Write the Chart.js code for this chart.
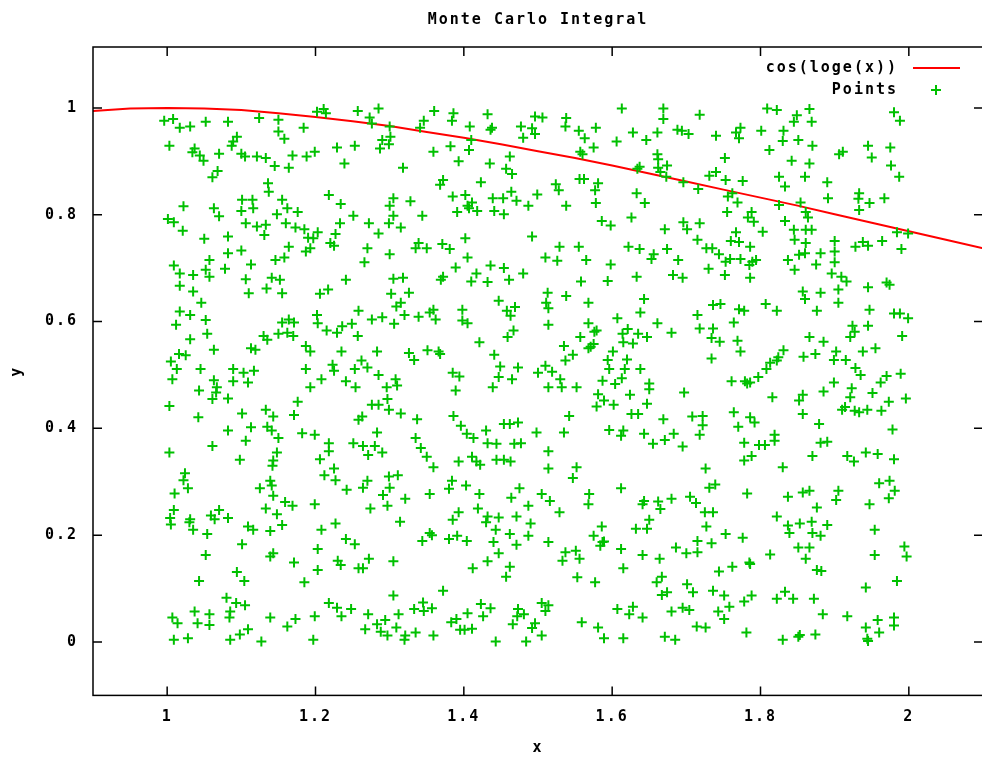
<!DOCTYPE html>
<html><head><meta charset="utf-8">
<script src="https://cdn.jsdelivr.net/npm/chart.js@4.4.1/dist/chart.umd.min.js"></script>
<style>
html,body{margin:0;padding:0;background:#fff;overflow:hidden;width:982px;height:758px}
#wrap{position:relative;width:982px;height:758px;overflow:hidden;background:#fff}
canvas{display:block}
</style></head><body><div id="wrap"><canvas id="c" width="990" height="758"></canvas></div>
<script>
const chartTitle = "Monte Carlo Integral";
const xAxisTitle = "x";
const yAxisTitle = "y";
const curveLabel = "cos(loge(x))";
const pointsLabel = "Points";
const xTickValues = [1, 1.2, 1.4, 1.6, 1.8, 2];
const xTickLabels = ["1", "1.2", "1.4", "1.6", "1.8", "2"];
const yTickValues = [0, 0.2, 0.4, 0.6, 0.8, 1];
const yTickLabels = ["0", "0.2", "0.4", "0.6", "0.8", "1"];
const xRange = [0.9, 2.1];
const yRange = [-0.1, 1.114];

const curveX = [0.9,0.95,1.0,1.05,1.1,1.15,1.2,1.25,1.3,1.35,1.4,1.45,1.5,1.55,1.6,1.65,1.7,1.75,1.8,1.85,1.9,1.95,2.0,2.05,2.1];
const curveY = [0.994,0.999,1.0,0.999,0.996,0.990,0.983,0.975,0.966,0.955,0.944,0.932,0.919,0.906,0.892,0.877,0.862,0.847,0.832,0.817,0.801,0.785,0.769,0.753,0.737];

const pointX = [
0.996,1.008,1.017,1.031,1.052,1.082,1.124,1.150,1.202,1.211,
1.214,1.184,1.150,1.158,1.094,1.089,1.087,1.003,1.037,1.034,
1.044,1.049,1.070,1.100,1.105,1.121,1.133,1.169,1.188,1.199,
1.229,1.239,1.145,1.164,1.068,1.061,1.136,1.137,1.218,1.022,
1.063,1.070,1.101,1.115,1.100,1.116,1.155,1.162,1.148,1.176,
1.234,1.001,1.009,1.021,1.050,1.082,1.106,1.121,1.133,1.131,
1.160,1.173,1.185,1.190,1.197,1.203,1.227,1.233,1.220,1.225,
1.164,1.187,1.193,1.100,1.082,1.009,1.017,1.035,1.057,1.052,
1.057,1.078,1.113,1.146,1.158,1.241,1.106,1.141,1.152,
1.257,1.285,1.273,1.276,1.360,1.386,1.384,1.432,1.408,1.346,
1.341,1.300,1.301,1.290,1.299,1.287,1.253,1.359,1.382,1.407,
1.410,1.436,1.438,1.477,1.492,1.496,1.496,1.480,1.462,1.457,
1.465,1.435,1.393,1.318,1.372,1.368,1.423,1.464,1.499,
1.385,1.402,1.405,1.411,1.407,1.418,1.391,1.439,1.453,1.471,
1.487,1.441,1.454,1.305,1.300,1.328,1.305,1.299,1.315,1.251,
1.272,1.285,1.344,1.402,1.492,1.270,1.300,1.339,1.335,1.350,
1.371,1.381,1.405,1.266,1.389,1.436,1.454,1.480,1.417,1.305,
1.318,1.372,1.369,1.410,1.432,1.461,
1.613,1.669,1.669,1.718,1.506,1.538,1.537,
1.555,1.563,1.578,1.575,1.557,1.560,1.606,1.628,1.646,1.661,
1.688,1.694,1.703,1.740,1.752,1.661,1.662,1.637,1.634,1.662,
1.674,1.665,1.673,1.696,1.716,1.731,1.740,1.753,1.556,1.562,
1.524,1.528,1.581,1.577,1.538,1.578,1.633,1.644,1.626,
1.586,1.598,1.671,1.696,1.701,1.718,1.715,1.755,1.529,1.555,
1.510,1.526,1.565,1.598,1.622,1.637,1.656,1.653,1.674,1.689,
1.727,1.735,1.744,1.753,1.730,1.752,1.682,1.695,1.633,1.558,
1.594,
1.809,1.822,1.866,1.849,1.845,1.869,1.980,1.988,1.773,1.767,
1.771,1.801,1.831,1.830,1.851,1.870,1.812,1.842,1.866,1.906,
1.911,1.945,1.950,1.975,1.976,1.987,1.825,1.833,1.860,1.890,
1.891,1.933,1.932,1.933,1.947,1.967,1.776,1.762,1.756,1.769,
1.788,1.783,1.791,1.825,1.854,1.861,1.864,1.833,1.803,1.845,
1.846,1.861,1.869,1.861,1.852,1.860,1.881,1.900,1.900,1.900,
1.875,1.837,1.846,1.896,1.909,1.916,1.928,1.938,1.945,1.964,
1.990,1.984,1.999,1.767,1.760,1.771,1.786,1.759,1.773,1.789,
1.785,1.794,1.786,
1.017,1.035,1.046,1.110,1.134,1.155,1.206,1.217,
1.017,1.031,1.012,1.052,1.031,1.054,1.063,1.016,1.025,
1.005,1.013,1.007,1.045,1.043,1.063,1.067,1.066,1.061,1.082,
1.089,1.103,1.117,1.089,1.109,1.113,1.119,1.130,1.135,1.150,
1.155,1.164,1.171,1.162,1.170,1.202,1.203,1.215,1.229,1.236,
1.187,1.193,1.235,1.223,1.225,1.187,1.208,1.193,1.241,1.003,
1.042,1.082,1.101,1.113,1.106,1.133,1.143,1.135,1.141,1.150,
1.171,1.176,1.182,1.199,1.218,1.218,1.206,1.003,1.061,1.098,
1.148,1.143,1.142,1.225,
1.302,1.326,1.315,1.309,1.320,1.339,1.258,1.276,1.290,1.306,
1.249,1.257,1.354,1.359,1.362,1.398,1.398,1.405,1.447,1.458,
1.463,1.469,1.467,1.459,1.421,1.441,1.283,1.326,1.333,1.351,
1.366,1.368,1.262,1.270,1.253,1.285,1.254,1.308,1.310,1.296,
1.297,1.276,1.285,1.299,1.315,1.337,1.385,1.394,1.389,1.449,
1.473,1.447,1.465,1.439,1.500,1.258,1.263,1.283,1.251,1.264,
1.280,1.271,1.290,1.335,1.342,1.350,1.386,1.396,1.404,1.413,
1.430,1.432,1.444,1.454,1.462,1.473,1.468,1.477,1.498,1.393,
1.411,1.417,1.422,1.444,1.454,1.463,1.359,
1.513,1.538,1.568,1.511,1.514,1.514,1.643,1.638,1.607,1.568,
1.576,1.579,1.557,1.571,1.568,1.575,1.535,1.547,1.537,1.621,
1.614,1.635,1.647,1.615,1.628,1.661,1.680,1.715,1.736,1.746,
1.718,1.736,1.734,1.745,1.734,1.601,1.594,1.620,1.596,1.617,
1.638,1.510,1.519,1.530,1.514,1.532,1.552,1.587,1.604,1.613,
1.581,1.589,1.579,1.602,1.624,1.650,1.650,1.647,1.697,1.542,
1.626,1.635,1.669,1.708,1.722,1.722,1.535,1.596,1.615,1.612,
1.643,1.683,1.671,1.655,1.695,1.718,1.514,1.552,1.514,1.726,
1.857,1.860,1.881,1.905,1.945,1.970,1.974,1.771,1.778,1.807,
1.822,1.876,1.905,1.947,1.980,1.988,1.999,1.764,1.769,1.773,
1.866,1.885,1.924,1.927,1.921,1.945,1.955,1.991,1.938,1.902,
1.899,1.915,1.858,1.874,1.831,1.824,1.813,1.808,1.822,1.797,
1.761,1.779,1.786,1.782,1.928,1.935,1.899,1.885,1.923,1.921,
1.951,1.970,1.962,1.989,1.973,1.996,1.816,1.857,1.852,1.857,
1.879,1.914,1.910,1.927,1.933,1.944,1.963,1.978,1.764,1.786,
1.792,1.770,1.778,1.798,1.806,1.819,1.819,1.881,1.890,1.870,
1.917,1.926,1.942,1.958,1.980,1.778,1.788,1.830,
1.024,1.022,1.028,1.010,1.139,1.141,1.143,1.125,1.212,1.227,
1.242,1.009,1.004,1.005,1.031,1.030,1.035,1.054,1.059,1.064,
1.070,1.082,1.133,1.148,1.159,1.169,1.199,1.109,1.116,1.139,
1.155,1.208,1.227,1.241,1.101,1.052,1.139,1.143,1.171,1.203,
1.203,1.230,1.234,1.094,1.104,1.043,1.185,1.080,1.093,1.105,
1.218,1.229,1.235,1.007,1.014,1.037,1.041,1.057,1.057,1.085,
1.084,1.139,1.162,1.173,1.199,1.009,1.028,1.085,1.098,1.109,
1.127,1.197,
1.299,1.311,1.270,1.264,1.300,1.291,1.321,1.274,1.297,1.354,
1.384,1.380,1.403,1.421,1.464,1.475,1.487,1.419,1.393,1.385,
1.432,1.430,1.447,1.471,1.490,1.314,1.443,1.462,1.487,1.471,
1.440,1.447,1.354,1.357,1.344,1.380,1.391,1.404,1.253,1.272,
1.258,1.264,1.305,1.432,1.412,1.462,1.457,1.305,1.372,1.248,
1.271,1.312,1.333,1.345,1.346,1.357,1.423,1.436,1.426,1.405,
1.473,1.481,1.472,1.466,1.496,1.492,1.294,1.283,1.288,1.297,
1.267,1.309,1.335,1.321,1.320,1.359,1.383,1.390,1.395,1.401,
1.411,1.443,1.484,
1.547,1.612,1.739,1.731,1.505,1.516,1.529,1.569,1.568,1.643,
1.641,1.662,1.665,1.680,1.705,1.713,1.725,1.736,1.650,1.647,
1.632,1.727,1.753,1.586,1.575,1.587,1.584,1.589,1.612,1.641,
1.664,1.686,1.700,1.715,1.715,1.734,1.514,1.537,1.551,1.533,
1.556,1.615,1.553,1.577,1.667,1.660,1.667,1.674,1.701,1.709,
1.736,1.751,1.744,1.505,1.514,1.510,1.505,1.559,1.581,1.589,
1.615,1.607,1.623,1.628,1.641,1.680,1.695,1.704,1.743,1.751,
1.714,1.726,1.671,1.685,
1.960,1.974,1.981,1.973,1.905,1.902,1.947,1.782,1.837,1.857,
1.866,1.876,1.822,1.837,1.839,1.853,1.869,1.890,1.870,1.881,
1.954,1.776,1.851,1.866,1.861,1.813,1.954,1.994,1.997,1.762,
1.785,1.786,1.876,1.882,1.984,1.942,1.833,1.822,1.844,1.872,
1.788,1.778,1.758,1.884,1.917,1.958,1.980,1.980,1.942,1.960,
1.781,1.830,1.853,1.851,1.874,1.944,1.945
];

const pointY = [
0.976,0.979,0.963,0.965,0.974,0.974,0.981,0.978,0.993,0.998,
0.990,0.963,0.956,0.942,0.946,0.937,0.929,0.929,0.924,0.917,
0.911,0.901,0.914,0.914,0.909,0.909,0.906,0.911,0.909,0.918,
0.926,0.896,0.891,0.888,0.882,0.870,0.859,0.843,0.837,0.816,
0.812,0.797,0.828,0.828,0.807,0.812,0.828,0.812,0.801,0.805,
0.820,0.792,0.786,0.770,0.755,0.759,0.784,0.778,0.781,0.762,
0.784,0.776,0.773,0.757,0.756,0.767,0.764,0.784,0.747,0.742,
0.740,0.731,0.737,0.733,0.728,0.705,0.690,0.687,0.715,0.697,
0.684,0.699,0.707,0.715,0.720,0.678,0.679,0.682,0.678,
0.994,0.999,0.982,0.971,0.994,0.990,0.976,0.988,0.965,0.976,
0.963,0.965,0.946,0.940,0.932,0.924,0.929,0.918,0.928,0.921,
0.940,0.959,0.963,0.965,0.962,0.984,0.951,0.944,0.909,0.886,
0.876,0.896,0.900,0.888,0.865,0.856,0.861,0.843,0.838,
0.834,0.837,0.817,0.823,0.812,0.807,0.805,0.831,0.831,0.826,
0.817,0.807,0.801,0.831,0.817,0.825,0.798,0.784,0.776,0.798,
0.784,0.765,0.798,0.756,0.759,0.737,0.726,0.747,0.737,0.737,
0.745,0.736,0.720,0.711,0.701,0.705,0.700,0.690,0.690,0.680,
0.682,0.684,0.678,0.675,0.674,0.678,
0.999,0.999,0.979,0.987,0.982,0.981,0.965,
0.957,0.943,0.963,0.926,0.918,0.913,0.937,0.954,0.940,0.954,
0.959,0.957,0.951,0.948,0.906,0.913,0.904,0.890,0.886,0.888,
0.892,0.880,0.871,0.861,0.848,0.873,0.880,0.865,0.867,0.867,
0.857,0.846,0.859,0.846,0.817,0.822,0.840,0.822,0.795,
0.788,0.780,0.773,0.786,0.773,0.784,0.753,0.805,0.740,0.740,
0.720,0.714,0.715,0.707,0.740,0.736,0.726,0.717,0.736,0.715,
0.737,0.737,0.726,0.712,0.699,0.687,0.687,0.682,0.684,0.675,
0.676,
0.999,0.996,0.998,0.986,0.974,0.974,0.992,0.976,0.963,0.954,
0.943,0.957,0.957,0.938,0.940,0.929,0.921,0.901,0.896,0.913,
0.918,0.929,0.907,0.926,0.892,0.871,0.871,0.853,0.871,0.861,
0.831,0.840,0.830,0.809,0.822,0.831,0.863,0.840,0.834,0.823,
0.805,0.795,0.787,0.818,0.823,0.805,0.795,0.788,0.768,0.772,
0.753,0.772,0.772,0.747,0.725,0.728,0.728,0.751,0.731,0.711,
0.707,0.715,0.697,0.690,0.684,0.675,0.740,0.749,0.742,0.751,
0.736,0.767,0.765,0.767,0.751,0.749,0.740,0.717,0.717,0.712,
0.706,0.715,0.682,
0.667,0.656,0.635,0.653,0.662,0.653,0.652,0.660,
0.619,0.612,0.594,0.603,0.567,0.577,0.547,0.539,0.537,
0.525,0.511,0.492,0.511,0.471,0.490,0.477,0.467,0.455,0.456,
0.511,0.504,0.508,0.488,0.486,0.550,0.547,0.573,0.566,0.577,
0.598,0.604,0.598,0.579,0.573,0.612,0.597,0.583,0.579,0.591,
0.554,0.544,0.544,0.519,0.508,0.511,0.492,0.477,0.488,0.442,
0.421,0.396,0.428,0.402,0.377,0.435,0.422,0.403,0.396,0.382,
0.425,0.450,0.391,0.388,0.372,0.357,0.342,0.355,0.367,0.341,
0.355,0.340,0.330,0.325,
0.652,0.654,0.635,0.628,0.612,0.609,0.620,0.604,0.608,0.596,
0.596,0.573,0.617,0.622,0.604,0.622,0.602,0.597,0.639,0.620,
0.611,0.627,0.583,0.571,0.561,0.538,0.544,0.541,0.528,0.546,
0.544,0.539,0.527,0.514,0.511,0.500,0.477,0.492,0.480,0.477,
0.455,0.444,0.444,0.435,0.428,0.417,0.504,0.497,0.471,0.516,
0.514,0.496,0.492,0.477,0.504,0.416,0.422,0.392,0.372,0.367,
0.367,0.350,0.355,0.382,0.363,0.347,0.423,0.405,0.390,0.382,
0.396,0.372,0.371,0.408,0.408,0.411,0.371,0.372,0.392,0.338,
0.347,0.338,0.332,0.341,0.341,0.338,0.327,
0.654,0.648,0.635,0.635,0.625,0.594,0.642,0.617,0.606,0.597,
0.581,0.583,0.571,0.553,0.550,0.558,0.554,0.538,0.527,0.586,
0.577,0.577,0.571,0.561,0.559,0.597,0.579,0.612,0.631,0.633,
0.587,0.587,0.569,0.562,0.531,0.544,0.528,0.529,0.511,0.511,
0.511,0.517,0.506,0.492,0.477,0.477,0.477,0.489,0.483,0.494,
0.464,0.452,0.441,0.444,0.463,0.484,0.473,0.446,0.467,0.423,
0.427,0.427,0.417,0.422,0.423,0.406,0.392,0.397,0.396,0.386,
0.390,0.390,0.378,0.371,0.366,0.388,0.357,0.327,0.325,0.325,
0.656,0.642,0.654,0.660,0.664,0.673,0.669,0.623,0.620,0.633,
0.620,0.620,0.635,0.622,0.615,0.615,0.606,0.598,0.564,0.544,
0.571,0.562,0.592,0.581,0.571,0.592,0.550,0.573,0.544,0.544,
0.528,0.528,0.534,0.539,0.546,0.533,0.523,0.511,0.527,0.496,
0.488,0.488,0.486,0.484,0.513,0.500,0.486,0.469,0.475,0.458,
0.466,0.498,0.486,0.502,0.450,0.456,0.458,0.463,0.452,0.427,
0.408,0.440,0.435,0.433,0.430,0.435,0.433,0.398,0.430,0.421,
0.411,0.403,0.373,0.369,0.369,0.388,0.377,0.373,0.375,0.348,
0.348,0.338,0.355,0.352,0.342,0.340,0.348,0.327,
0.316,0.303,0.288,0.278,0.302,0.293,0.274,0.288,0.312,0.303,
0.285,0.247,0.232,0.220,0.230,0.224,0.210,0.202,0.237,0.230,
0.247,0.232,0.250,0.239,0.262,0.255,0.258,0.216,0.210,0.208,
0.219,0.210,0.222,0.193,0.183,0.163,0.160,0.166,0.149,0.174,
0.135,0.152,0.144,0.131,0.114,0.114,0.112,0.083,0.073,0.069,
0.073,0.064,0.048,0.046,0.035,0.057,0.035,0.052,0.032,0.057,
0.046,0.046,0.029,0.043,0.048,0.004,0.007,0.004,0.014,0.024,
0.001,0.004,
0.310,0.312,0.302,0.289,0.289,0.275,0.268,0.250,0.255,0.277,
0.302,0.287,0.293,0.277,0.270,0.288,0.255,0.250,0.243,0.229,
0.235,0.224,0.233,0.235,0.222,0.225,0.210,0.202,0.199,0.182,
0.187,0.166,0.204,0.200,0.189,0.193,0.199,0.189,0.183,0.156,
0.138,0.138,0.151,0.151,0.138,0.141,0.122,0.087,0.096,0.062,
0.052,0.052,0.062,0.074,0.058,0.063,0.071,0.063,0.048,0.054,
0.062,0.052,0.048,0.033,0.035,0.026,0.041,0.033,0.019,0.012,
0.024,0.027,0.018,0.012,0.004,0.012,0.037,0.043,0.023,0.023,
0.025,0.001,0.001,
0.307,0.288,0.295,0.289,0.277,0.264,0.243,0.277,0.258,0.264,
0.258,0.263,0.249,0.268,0.272,0.260,0.243,0.243,0.229,0.212,
0.212,0.216,0.202,0.216,0.199,0.187,0.180,0.188,0.174,0.163,
0.156,0.177,0.166,0.189,0.168,0.185,0.187,0.168,0.171,0.152,
0.156,0.138,0.121,0.112,0.122,0.112,0.088,0.093,0.108,0.093,
0.096,0.087,0.132,0.073,0.069,0.058,0.012,0.037,0.027,0.007,
0.007,0.062,0.052,0.066,0.046,0.057,0.064,0.060,0.057,0.043,
0.029,0.027,0.010,0.004,
0.297,0.302,0.283,0.269,0.283,0.266,0.258,0.278,0.272,0.280,
0.283,0.252,0.235,0.218,0.204,0.222,0.225,0.219,0.204,0.199,
0.210,0.195,0.177,0.177,0.156,0.164,0.163,0.179,0.160,0.141,
0.149,0.146,0.135,0.133,0.114,0.102,0.094,0.081,0.081,0.081,
0.087,0.076,0.066,0.052,0.048,0.041,0.046,0.031,0.027,0.018,
0.018,0.004,0.013,0.010,0.014,0.006,0.002
];

const FONT_FAMILY = "'DejaVu Sans Mono', 'Liberation Mono', monospace";
const baseFont = {family: FONT_FAMILY, size: 15, weight: 'bold', lineHeight: 1.2};
const curveColor = '#ff0000';
const pointColor = '#00c000';

const spacingPlugin = {
  id: 'spacing',
  beforeDraw(chart) { chart.ctx.letterSpacing = '2px'; }
};

const framePlugin = {
  id: 'frame',
  afterDatasetsDraw(chart) {
    const {ctx, chartArea: ca, scales} = chart;
    ctx.save();
    ctx.strokeStyle = '#000';
    ctx.lineWidth = 1.5;
    ctx.strokeRect(ca.left, ca.top, ca.right - ca.left, ca.bottom - ca.top);
    const tl = 9;
    ctx.beginPath();
    xTickValues.forEach(v => {
      const px = scales.x.getPixelForValue(v);
      ctx.moveTo(px, ca.bottom); ctx.lineTo(px, ca.bottom - tl);
      ctx.moveTo(px, ca.top); ctx.lineTo(px, ca.top + tl);
    });
    yTickValues.forEach(v => {
      const py = scales.y.getPixelForValue(v);
      ctx.moveTo(ca.left, py); ctx.lineTo(ca.left + tl, py);
      ctx.moveTo(ca.right, py); ctx.lineTo(ca.right - tl, py);
    });
    ctx.stroke();
    ctx.restore();
  }
};

const keyPlugin = {
  id: 'key',
  afterDraw(chart) {
    const {ctx, chartArea: ca} = chart;
    const ds = chart.data.datasets;
    const curveDs = ds.find(d => d.label === curveLabel);
    const ptsDs = ds.find(d => d.label === pointsLabel);
    ctx.save();
    ctx.letterSpacing = '2px';
    ctx.font = "bold 15px " + FONT_FAMILY;
    ctx.fillStyle = '#000';
    ctx.textAlign = 'right';
    ctx.textBaseline = 'middle';
    const textRight = ca.right - 85;
    const y1 = ca.top + 21, y2 = ca.top + 43;
    ctx.fillText(curveDs.label, textRight, y1);
    ctx.fillText(ptsDs.label, textRight, y2);
    ctx.strokeStyle = curveDs.borderColor;
    ctx.lineWidth = 2;
    ctx.beginPath();
    ctx.moveTo(ca.right - 70, y1); ctx.lineTo(ca.right - 23, y1);
    ctx.stroke();
    ctx.strokeStyle = ptsDs.borderColor;
    ctx.lineWidth = 2;
    const cx = ca.right - 47, r = 5;
    ctx.beginPath();
    ctx.moveTo(cx - r, y2); ctx.lineTo(cx + r, y2);
    ctx.moveTo(cx, y2 - r); ctx.lineTo(cx, y2 + r);
    ctx.stroke();
    ctx.restore();
  }
};

const scatterData = pointX.map((x, i) => ({x: x, y: pointY[i]}));
const curveData = curveX.map((x, i) => ({x: x, y: curveY[i]}));

new Chart(document.getElementById('c'), {
  type: 'scatter',
  data: {
    datasets: [
      {
        type: 'line',
        label: curveLabel,
        data: curveData,
        borderColor: curveColor,
        backgroundColor: curveColor,
        borderWidth: 2,
        pointRadius: 0,
        fill: false,
        tension: 0,
        order: 1
      },
      {
        type: 'scatter',
        label: pointsLabel,
        data: scatterData,
        pointStyle: 'cross',
        pointRadius: 5,
        pointHoverRadius: 5,
        borderColor: pointColor,
        backgroundColor: pointColor,
        borderWidth: 2,
        order: 0
      }
    ]
  },
  options: {
    responsive: false,
    maintainAspectRatio: false,
    animation: false,
    events: [],
    layout: {padding: {left: 0, right: 4.7, top: 0, bottom: 0}},
    plugins: {
      legend: {display: false},
      tooltip: {enabled: false},
      title: {
        display: true,
        text: chartTitle,
        color: '#000',
        fullSize: false,
        font: baseFont,
        padding: {top: 11, bottom: 18}
      }
    },
    scales: {
      x: {
        type: 'linear',
        min: xRange[0],
        max: xRange[1],
        grid: {display: false, drawTicks: false},
        border: {display: false},
        afterBuildTicks: s => { s.ticks = xTickValues.map(v => ({value: v})); },
        afterFit: s => { s.height = 62.6; },
        ticks: {
          color: '#000', font: baseFont, padding: 13, maxRotation: 0, autoSkip: false,
          callback: (v, i) => xTickLabels[i]
        },
        title: {display: true, text: xAxisTitle, color: '#000', font: baseFont, padding: {top: 0, bottom: 1}}
      },
      y: {
        type: 'linear',
        min: yRange[0],
        max: yRange[1],
        grid: {display: false, drawTicks: false},
        border: {display: false},
        afterBuildTicks: s => { s.ticks = yTickValues.map(v => ({value: v})); },
        afterFit: s => { s.width = 93; },
        ticks: {
          color: '#000', font: baseFont, padding: 15, autoSkip: false,
          callback: (v, i) => yTickLabels[i]
        },
        title: {display: true, text: yAxisTitle, color: '#000', font: baseFont, padding: {top: 8, bottom: 0}}
      }
    }
  },
  plugins: [spacingPlugin, framePlugin, keyPlugin]
});
</script>
</body></html>
